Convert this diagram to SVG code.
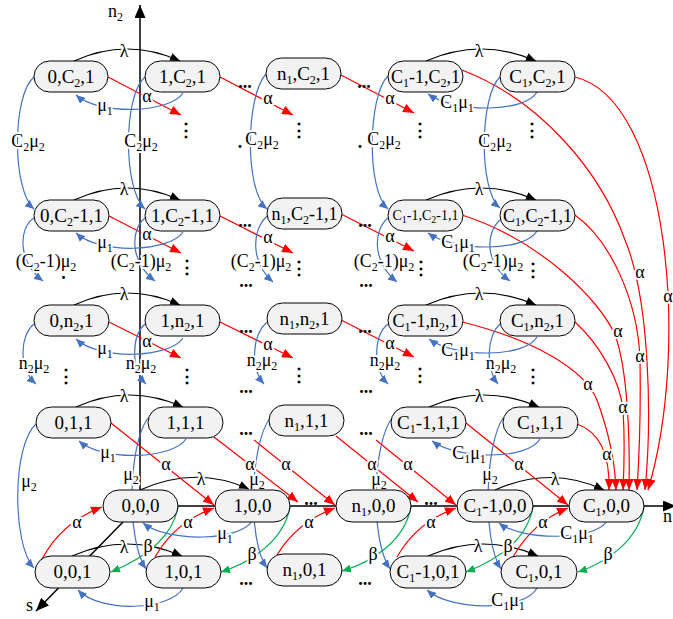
<svg xmlns="http://www.w3.org/2000/svg" width="673" height="619" viewBox="0 0 673 619">
<defs>
<style>
.nd rect{fill:#F2F2F2;stroke:#000;stroke-width:1}
text{font-family:"Liberation Serif","Times New Roman",serif;font-size:18px;fill:#000}
.nd text{text-anchor:middle;font-size:19px}
.nd text.md{font-size:18px}
.nd text.sm{font-size:14px}
.s{font-size:12px}
.s2{font-size:10px}
.lb{text-anchor:middle;stroke:#fff;stroke-width:4px;stroke-linejoin:round;paint-order:stroke}
.r{fill:none;stroke:#f00;stroke-width:1.2;marker-end:url(#mr)}
.b{fill:none;stroke:#4472C4;stroke-width:1.2;marker-end:url(#mb)}
.g{fill:none;stroke:#00B050;stroke-width:1.2;marker-end:url(#mg)}
.k{fill:none;stroke:#000;stroke-width:1.2;marker-end:url(#mk)}
.ax{fill:none;stroke:#000;stroke-width:1.5;marker-end:url(#ma)}
.dots{font-family:"Liberation Sans",Arial,sans-serif;font-weight:bold;font-size:24px;text-anchor:middle}
.vd{font-family:"DejaVu Sans",sans-serif;font-weight:bold;font-size:26px;text-anchor:middle}
</style>
<marker id="mr" viewBox="0 0 10 10" refX="10" refY="5" markerWidth="11" markerHeight="9" preserveAspectRatio="none" orient="auto" markerUnits="userSpaceOnUse"><path d="M0,0L10,5L0,10z" fill="#f00"/></marker>
<marker id="mb" viewBox="0 0 10 10" refX="10" refY="5" markerWidth="9" markerHeight="8" preserveAspectRatio="none" orient="auto" markerUnits="userSpaceOnUse"><path d="M0,0L10,5L0,10z" fill="#4472C4"/></marker>
<marker id="mg" viewBox="0 0 10 10" refX="10" refY="5" markerWidth="9" markerHeight="8" preserveAspectRatio="none" orient="auto" markerUnits="userSpaceOnUse"><path d="M0,0L10,5L0,10z" fill="#00B050"/></marker>
<marker id="mk" viewBox="0 0 10 10" refX="10" refY="5" markerWidth="10" markerHeight="8" preserveAspectRatio="none" orient="auto" markerUnits="userSpaceOnUse"><path d="M0,0L10,5L0,10z" fill="#000"/></marker>
<marker id="ma" viewBox="0 0 10 10" refX="10" refY="5" markerWidth="13" markerHeight="11" preserveAspectRatio="none" orient="auto" markerUnits="userSpaceOnUse"><path d="M0,0L10,5L0,10z" fill="#000"/></marker>
</defs>

<g id="connectors">
<!-- axes -->
<path class="ax" d="M140,490 L140,5"/>
<path class="ax" d="M178,506 L676,506"/>
<path class="ax" d="M123,522 L36,611"/>
<!-- lambda arcs -->
<path class="k" d="M74,61 Q127,37 180,61"/>
<path class="k" d="M74,200 Q127,176 180,200"/>
<path class="k" d="M74,305 Q127,281 180,305"/>
<path class="k" d="M76,407 Q129,383 183,407"/>
<path class="k" d="M140,490 Q196,465 249,489"/>
<path class="k" d="M72,556 Q127,532 182,556"/>
<path class="k" d="M426,61 Q481,37 536,61"/>
<path class="k" d="M426,200 Q481,176 536,200"/>
<path class="k" d="M426,305 Q481,281 536,305"/>
<path class="k" d="M429,407 Q484,383 539,407"/>
<path class="k" d="M495,490 Q551,465 604,490"/>
<path class="k" d="M428,556 Q483,532 538,556"/>
<!-- red short alpha -->
<path class="r" d="M108,77 L181,115"/>
<path class="r" d="M220,77 L293,115"/>
<path class="r" d="M341,75 L414,113"/>
<path class="r" d="M109,216 L181,253"/>
<path class="r" d="M220,216 L293,253"/>
<path class="r" d="M341,214 L414,251"/>
<path class="r" d="M109,322 L181,358"/>
<path class="r" d="M220,322 L293,358"/>
<path class="r" d="M341,320 L414,357"/>
<path class="r" d="M111,423 L214,505"/>
<path class="r" d="M214,437 L298,502"/>
<path class="r" d="M254,440 L335,505"/>
<path class="r" d="M336,436 L418,502"/>
<path class="r" d="M376,440 L456,505"/>
<path class="r" d="M466,423 L568,505"/>
<path class="r" d="M42,559 Q62,522 102,507"/>
<path class="r" d="M155,557 Q175,522 214,508"/>
<path class="r" d="M277,555 Q297,522 335,508"/>
<path class="r" d="M397,557 Q417,522 456,508"/>
<path class="r" d="M513,557 Q533,522 568,508"/>
<!-- red long curves into C1,0,0 -->
<path class="r" d="M575,77 C670,100 690,350 648,490"/>
<path class="r" d="M462,70 C540,100 600,170 625,240 C650,300 652,420 645,490"/>
<path class="r" d="M575,215 C610,240 638,300 640,360 C641,420 639,460 637,490"/>
<path class="r" d="M462,215 C540,240 600,300 615,335 C628,370 630,440 629,490"/>
<path class="r" d="M575,322 C600,345 620,380 623,410 C625,440 624,470 623,490"/>
<path class="r" d="M462,322 C535,340 585,370 597,400 C608,430 615,460 616,490"/>
<path class="r" d="M577,424 C600,432 610,455 609,490"/>
<!-- green beta -->
<path class="g" d="M178,507 C172,540 140,560 111,572"/>
<path class="g" d="M290,507 C284,540 252,562 221,572"/>
<path class="g" d="M411,507 C405,540 373,562 342,571"/>
<path class="g" d="M533,507 C527,540 497,560 466,572"/>
<path class="g" d="M644,507 C638,540 608,562 578,572"/>
<!-- blue mu1 -->
<path class="b" d="M183,93 C170,113 100,116 76,95"/>
<path class="b" d="M183,232 C170,252 100,255 76,233"/>
<path class="b" d="M183,338 C170,358 100,361 76,339"/>
<path class="b" d="M186,439 C173,459 103,462 79,441"/>
<path class="b" d="M252,521 C240,541 168,543 143,523"/>
<path class="b" d="M183,588 C170,611 100,613 78,590"/>
<path class="b" d="M537,92 C525,113 455,113 428,94"/>
<path class="b" d="M537,231 C525,252 455,252 428,233"/>
<path class="b" d="M537,337 C525,358 455,358 429,339"/>
<path class="b" d="M540,439 C528,460 458,460 432,441"/>
<path class="b" d="M607,521 C595,541 522,541 499,523"/>
<path class="b" d="M537,588 C525,611 452,612 427,590"/>
<!-- blue mu2 verticals -->
<path class="b" d="M34,77 C12,95 12,190 34,209"/>
<path class="b" d="M145,77 C123,95 123,190 145,209"/>
<path class="b" d="M266,74 C246,95 244,190 267,209"/>
<path class="b" d="M388,76 C368,95 366,190 388,209"/>
<path class="b" d="M500,77 C480,95 478,190 500,208"/>
<path class="b" d="M34,218 C18,228 18,262 43,281"/>
<path class="b" d="M145,218 C130,230 130,262 155,281"/>
<path class="b" d="M267,216 C252,230 250,262 273,282"/>
<path class="b" d="M388,218 C373,230 372,262 397,282"/>
<path class="b" d="M500,220 C486,232 484,262 510,281"/>
<path class="b" d="M34,324 C20,335 18,368 36,384"/>
<path class="b" d="M145,324 C132,335 130,368 146,384"/>
<path class="b" d="M267,322 C252,335 250,368 264,384"/>
<path class="b" d="M388,324 C374,335 372,368 388,384"/>
<path class="b" d="M500,324 C487,336 485,368 498,384"/>
<path class="b" d="M36,424 C12,445 12,545 34,568"/>
<path class="b" d="M148,418 C128,445 126,540 146,569"/>
<path class="b" d="M270,418 C250,445 247,540 267,568"/>
<path class="b" d="M392,418 C372,445 370,540 390,569"/>
<path class="b" d="M503,418 C485,445 482,540 501,569"/>

<!-- labels -->
<g class="lb">
<text x="124" y="57">λ</text><text x="124" y="195">λ</text><text x="124" y="300">λ</text><text x="124" y="402">λ</text><text x="201" y="485">λ</text><text x="124" y="553">λ</text>
<text x="479" y="57">λ</text><text x="479" y="195">λ</text><text x="479" y="300">λ</text><text x="479" y="402">λ</text><text x="555" y="485">λ</text><text x="478" y="552">λ</text>
<text x="147" y="102">α</text><text x="268" y="104">α</text><text x="390" y="104">α</text>
<text x="147" y="240">α</text><text x="268" y="243">α</text><text x="390" y="242">α</text>
<text x="147" y="347">α</text><text x="268" y="350">α</text><text x="390" y="349">α</text>
<text x="166" y="470">α</text><text x="250" y="470">α</text><text x="286" y="470">α</text><text x="372" y="470">α</text><text x="408" y="470">α</text><text x="519" y="470">α</text>
<text x="77" y="528">α</text><text x="188" y="528">α</text><text x="309" y="528">α</text><text x="431" y="528">α</text><text x="543" y="528">α</text>
<text x="668" y="302">α</text><text x="640" y="278">α</text><text x="640" y="362">α</text><text x="618" y="337">α</text><text x="623" y="413">α</text><text x="588" y="390">α</text><text x="607" y="460">α</text>
<text x="148" y="552">β</text><text x="252" y="560">β</text><text x="373" y="560">β</text><text x="508" y="552">β</text><text x="608" y="560">β</text>
<text x="105" y="111">μ<tspan class="s" dy="4">1</tspan></text>
<text x="105" y="248">μ<tspan class="s" dy="4">1</tspan></text>
<text x="105" y="354">μ<tspan class="s" dy="4">1</tspan></text>
<text x="108" y="458">μ<tspan class="s" dy="4">1</tspan></text>
<text x="225" y="539">μ<tspan class="s" dy="4">1</tspan></text>
<text x="152" y="607">μ<tspan class="s" dy="4">1</tspan></text>
<text x="457" y="108">C<tspan class="s" dy="4">1</tspan><tspan dy="-4">μ</tspan><tspan class="s" dy="4">1</tspan></text>
<text x="458" y="248">C<tspan class="s" dy="4">1</tspan><tspan dy="-4">μ</tspan><tspan class="s" dy="4">1</tspan></text>
<text x="458" y="356">C<tspan class="s" dy="4">1</tspan><tspan dy="-4">μ</tspan><tspan class="s" dy="4">1</tspan></text>
<text x="469" y="459">C<tspan class="s" dy="4">1</tspan><tspan dy="-4">μ</tspan><tspan class="s" dy="4">1</tspan></text>
<text x="577" y="539">C<tspan class="s" dy="4">1</tspan><tspan dy="-4">μ</tspan><tspan class="s" dy="4">1</tspan></text>
<text x="508" y="606">C<tspan class="s" dy="4">1</tspan><tspan dy="-4">μ</tspan><tspan class="s" dy="4">1</tspan></text>
<text x="28" y="147">C<tspan class="s" dy="4">2</tspan><tspan dy="-4">μ</tspan><tspan class="s" dy="4">2</tspan></text>
<text x="141" y="147">C<tspan class="s" dy="4">2</tspan><tspan dy="-4">μ</tspan><tspan class="s" dy="4">2</tspan></text>
<text x="262" y="145">C<tspan class="s" dy="4">2</tspan><tspan dy="-4">μ</tspan><tspan class="s" dy="4">2</tspan></text>
<text x="384" y="145">C<tspan class="s" dy="4">2</tspan><tspan dy="-4">μ</tspan><tspan class="s" dy="4">2</tspan></text>
<text x="495" y="147">C<tspan class="s" dy="4">2</tspan><tspan dy="-4">μ</tspan><tspan class="s" dy="4">2</tspan></text>
<text x="46" y="267">(C<tspan class="s" dy="4">2</tspan><tspan dy="-4">-1)μ</tspan><tspan class="s" dy="4">2</tspan></text>
<text x="141" y="267">(C<tspan class="s" dy="4">2</tspan><tspan dy="-4">-1)μ</tspan><tspan class="s" dy="4">2</tspan></text>
<text x="261" y="267">(C<tspan class="s" dy="4">2</tspan><tspan dy="-4">-1)μ</tspan><tspan class="s" dy="4">2</tspan></text>
<text x="384" y="267">(C<tspan class="s" dy="4">2</tspan><tspan dy="-4">-1)μ</tspan><tspan class="s" dy="4">2</tspan></text>
<text x="493" y="267">(C<tspan class="s" dy="4">2</tspan><tspan dy="-4">-1)μ</tspan><tspan class="s" dy="4">2</tspan></text>
<text x="34" y="369">n<tspan class="s" dy="4">2</tspan><tspan dy="-4">μ</tspan><tspan class="s" dy="4">2</tspan></text>
<text x="141" y="369">n<tspan class="s" dy="4">2</tspan><tspan dy="-4">μ</tspan><tspan class="s" dy="4">2</tspan></text>
<text x="262" y="366">n<tspan class="s" dy="4">2</tspan><tspan dy="-4">μ</tspan><tspan class="s" dy="4">2</tspan></text>
<text x="385" y="366">n<tspan class="s" dy="4">2</tspan><tspan dy="-4">μ</tspan><tspan class="s" dy="4">2</tspan></text>
<text x="501" y="369">n<tspan class="s" dy="4">2</tspan><tspan dy="-4">μ</tspan><tspan class="s" dy="4">2</tspan></text>
<text x="29" y="487">μ<tspan class="s" dy="4">2</tspan></text>
<text x="131" y="480">μ<tspan class="s" dy="4">2</tspan></text>
<text x="257" y="485">μ<tspan class="s" dy="4">2</tspan></text>
<text x="379" y="485">μ<tspan class="s" dy="4">2</tspan></text>
<text x="490" y="480">μ<tspan class="s" dy="4">2</tspan></text>
</g>
<!-- ellipses -->
<g class="dots">
<text x="245" y="88">...</text><text x="364" y="88">...</text>
<text x="245" y="227">...</text><text x="365" y="227">...</text>
<text x="246" y="287">...</text><text x="366" y="287">...</text>
<text x="246" y="333">...</text><text x="365" y="333">...</text>
<text x="246" y="393">...</text><text x="366" y="393">...</text>
<text x="246" y="435">...</text><text x="366" y="435">...</text>
<text x="311" y="505">...</text><text x="431" y="505">...</text>
<text x="246" y="585">...</text><text x="365" y="585">...</text>
<text x="63.5" y="279">.</text><text x="240" y="148">.</text><text x="360" y="148">.</text>
</g>
<g class="vd">
<text x="186" y="136">⋮</text><text x="299" y="136">⋮</text><text x="420" y="136">⋮</text><text x="532" y="136">⋮</text>
<text x="187" y="273">⋮</text><text x="299" y="274">⋮</text><text x="421" y="274">⋮</text><text x="533" y="276">⋮</text>
<text x="66" y="382">⋮</text><text x="187" y="382">⋮</text><text x="299" y="381">⋮</text><text x="420" y="381">⋮</text><text x="533" y="382">⋮</text>
</g>
<!-- axis labels -->
<text x="108" y="17">n<tspan class="s" dy="4">2</tspan></text>
<text x="663" y="522">n<tspan class="s" dy="4">1</tspan></text>
<text x="26" y="611">s</text>
</g>

<g id="n-0-C2-1" class="nd"><rect x="34" y="61" width="74" height="31" rx="15.5"/><text x="71" y="83">0,C<tspan class="s" dy="4">2</tspan><tspan dy="-4">,1</tspan></text></g>
<g id="n-1-C2-1" class="nd"><rect x="145" y="61" width="75" height="31" rx="15.5"/><text x="182.5" y="83">1,C<tspan class="s" dy="4">2</tspan><tspan dy="-4">,1</tspan></text></g>
<g id="n-n1-C2-1" class="nd"><rect x="266" y="58" width="75" height="31" rx="15.5"/><text x="303.5" y="80">n<tspan class="s" dy="4">1</tspan><tspan dy="-4">,C</tspan><tspan class="s" dy="4">2</tspan><tspan dy="-4">,1</tspan></text></g>
<g id="n-C1m1-C2-1" class="nd"><rect x="388" y="61" width="75" height="31" rx="15.5"/><text class="md" x="425.5" y="83">C<tspan class="s" dy="4">1</tspan><tspan dy="-4">-1,C</tspan><tspan class="s" dy="4">2</tspan><tspan dy="-4">,1</tspan></text></g>
<g id="n-C1-C2-1" class="nd"><rect x="500" y="61" width="75" height="31" rx="15.5"/><text x="537.5" y="83">C<tspan class="s" dy="4">1</tspan><tspan dy="-4">,C</tspan><tspan class="s" dy="4">2</tspan><tspan dy="-4">,1</tspan></text></g>

<g id="n-0-C2m1-1" class="nd"><rect x="34" y="200" width="75" height="31" rx="15.5"/><text x="71.5" y="222">0,C<tspan class="s" dy="4">2</tspan><tspan dy="-4">-1,1</tspan></text></g>
<g id="n-1-C2m1-1" class="nd"><rect x="145" y="200" width="75" height="31" rx="15.5"/><text x="182.5" y="222">1,C<tspan class="s" dy="4">2</tspan><tspan dy="-4">-1,1</tspan></text></g>
<g id="n-n1-C2m1-1" class="nd"><rect x="267" y="198" width="75" height="31" rx="15.5"/><text class="md" x="304.5" y="220">n<tspan class="s" dy="4">1</tspan><tspan dy="-4">,C</tspan><tspan class="s" dy="4">2</tspan><tspan dy="-4">-1,1</tspan></text></g>
<g id="n-C1m1-C2m1-1" class="nd"><rect x="388" y="200" width="75" height="31" rx="15.5"/><text class="sm" x="425.5" y="220">C<tspan class="s2" dy="3">1</tspan><tspan dy="-3">-1,C</tspan><tspan class="s2" dy="3">2</tspan><tspan dy="-3">-1,1</tspan></text></g>
<g id="n-C1-C2m1-1" class="nd"><rect x="500" y="200" width="75" height="31" rx="15.5"/><text class="md" x="537.5" y="222">C<tspan class="s" dy="4">1</tspan><tspan dy="-4">,C</tspan><tspan class="s" dy="4">2</tspan><tspan dy="-4">-1,1</tspan></text></g>

<g id="n-0-n2-1" class="nd"><rect x="34" y="305" width="75" height="31" rx="15.5"/><text x="71.5" y="327">0,n<tspan class="s" dy="4">2</tspan><tspan dy="-4">,1</tspan></text></g>
<g id="n-1-n2-1" class="nd"><rect x="145" y="305" width="75" height="31" rx="15.5"/><text x="182.5" y="327">1,n<tspan class="s" dy="4">2</tspan><tspan dy="-4">,1</tspan></text></g>
<g id="n-n1-n2-1" class="nd"><rect x="267" y="303" width="75" height="31" rx="15.5"/><text x="304.5" y="325">n<tspan class="s" dy="4">1</tspan><tspan dy="-4">,n</tspan><tspan class="s" dy="4">2</tspan><tspan dy="-4">,1</tspan></text></g>
<g id="n-C1m1-n2-1" class="nd"><rect x="388" y="305" width="75" height="31" rx="15.5"/><text class="md" x="425.5" y="327">C<tspan class="s" dy="4">1</tspan><tspan dy="-4">-1,n</tspan><tspan class="s" dy="4">2</tspan><tspan dy="-4">,1</tspan></text></g>
<g id="n-C1-n2-1" class="nd"><rect x="500" y="305" width="75" height="31" rx="15.5"/><text x="537.5" y="327">C<tspan class="s" dy="4">1</tspan><tspan dy="-4">,n</tspan><tspan class="s" dy="4">2</tspan><tspan dy="-4">,1</tspan></text></g>

<g id="n-0-1-1" class="nd"><rect x="36" y="407" width="75" height="31" rx="15.5"/><text x="73.5" y="429">0,1,1</text></g>
<g id="n-1-1-1" class="nd"><rect x="148" y="407" width="75" height="31" rx="15.5"/><text x="185.5" y="429">1,1,1</text></g>
<g id="n-n1-1-1" class="nd"><rect x="269" y="405" width="75" height="31" rx="15.5"/><text x="306.5" y="427">n<tspan class="s" dy="4">1</tspan><tspan dy="-4">,1,1</tspan></text></g>
<g id="n-C1m1-1-1" class="nd"><rect x="391" y="407" width="75" height="31" rx="15.5"/><text x="428.5" y="429">C<tspan class="s" dy="4">1</tspan><tspan dy="-4">-1,1,1</tspan></text></g>
<g id="n-C1-1-1" class="nd"><rect x="503" y="407" width="75" height="31" rx="15.5"/><text x="540.5" y="429">C<tspan class="s" dy="4">1</tspan><tspan dy="-4">,1,1</tspan></text></g>

<g id="n-0-0-0" class="nd"><rect x="103" y="490" width="75" height="32" rx="16"/><text x="140.5" y="512">0,0,0</text></g>
<g id="n-1-0-0" class="nd"><rect x="215" y="490" width="75" height="32" rx="16"/><text x="252.5" y="512">1,0,0</text></g>
<g id="n-n1-0-0" class="nd"><rect x="336" y="490" width="75" height="32" rx="16"/><text x="373.5" y="512">n<tspan class="s" dy="4">1</tspan><tspan dy="-4">,0,0</tspan></text></g>
<g id="n-C1m1-0-0" class="nd"><rect x="457" y="490" width="76" height="32" rx="16"/><text x="495" y="512">C<tspan class="s" dy="4">1</tspan><tspan dy="-4">-1,0,0</tspan></text></g>
<g id="n-C1-0-0" class="nd"><rect x="569" y="490" width="75" height="32" rx="16"/><text x="606.5" y="512">C<tspan class="s" dy="4">1</tspan><tspan dy="-4">,0,0</tspan></text></g>

<g id="n-0-0-1" class="nd"><rect x="35" y="556" width="75" height="32" rx="16"/><text x="72.5" y="578">0,0,1</text></g>
<g id="n-1-0-1" class="nd"><rect x="146" y="556" width="75" height="32" rx="16"/><text x="183.5" y="578">1,0,1</text></g>
<g id="n-n1-0-1" class="nd"><rect x="267" y="554" width="75" height="32" rx="16"/><text x="304.5" y="576">n<tspan class="s" dy="4">1</tspan><tspan dy="-4">,0,1</tspan></text></g>
<g id="n-C1m1-0-1" class="nd"><rect x="390" y="556" width="76" height="32" rx="16"/><text x="428" y="578">C<tspan class="s" dy="4">1</tspan><tspan dy="-4">-1,0,1</tspan></text></g>
<g id="n-C1-0-1" class="nd"><rect x="501" y="556" width="76" height="32" rx="16"/><text x="539" y="578">C<tspan class="s" dy="4">1</tspan><tspan dy="-4">,0,1</tspan></text></g>
</svg>
